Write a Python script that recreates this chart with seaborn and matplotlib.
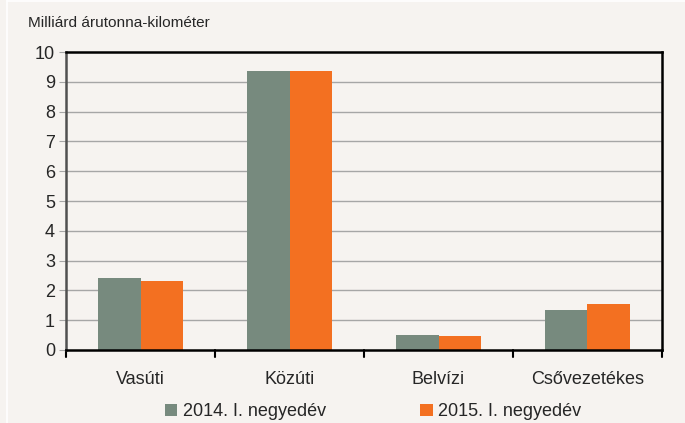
import pandas as pd
import seaborn as sns
import matplotlib.pyplot as plt
from matplotlib.lines import Line2D

categories = ['Vasúti', 'Közúti', 'Belvízi', 'Csővezetékes']
series = ['2014. I. negyedév', '2015. I. negyedév']
v2014 = [2.42, 9.35, 0.50, 1.34]
v2015 = [2.31, 9.35, 0.47, 1.53]
colors = ['#778A7E', '#F37021']
bg = '#F6F3F0'

df = pd.DataFrame({
    'cat': categories * 2,
    'series': [series[0]] * 4 + [series[1]] * 4,
    'value': v2014 + v2015,
})

sns.set_style('white')
plt.rcParams['font.family'] = ['Liberation Sans', 'DejaVu Sans']

fig = plt.figure(figsize=(6.85, 4.23), dpi=100, facecolor=bg)
ax = fig.add_axes([0.0964, 0.1726, 0.87, 0.7044])
ax.set_facecolor(bg)

sns.barplot(data=df, x='cat', y='value', hue='series', palette=colors,
            width=0.57, gap=0, saturation=1, linewidth=0, ax=ax, legend=True)

ax.set_ylim(0, 10)
ax.set_xlim(-0.5, 3.5)
ax.set_yticks(range(0, 11))
for y in range(1, 10):
    ax.axhline(y, color='#A6A6A6', lw=1, zorder=0)
ax.set_axisbelow(True)

ax.set_xlabel('')
ax.set_ylabel('')
ax.tick_params(axis='y', length=5, color='#A6A6A6', labelsize=13, pad=3, left=True)
ax.set_xticks([0, 1, 2, 3])
ax.set_xticklabels(categories, fontsize=13)
ax.tick_params(axis='x', length=0, pad=15)
# boundary ticks on the category axis
for xb in [-0.5, 0.5, 1.5, 2.5, 3.5]:
    ax.plot([xb, xb], [0, -0.22], color='black', lw=1.5, clip_on=False)

for s in ['top', 'right', 'bottom']:
    ax.spines[s].set_visible(True)
    ax.spines[s].set_color('black')
    ax.spines[s].set_linewidth(1.8)
ax.spines['left'].set_color('#505050')
ax.spines['left'].set_linewidth(1.8)

fig.text(0.041, 0.945, 'Milliárd árutonna-kilométer', fontsize=11.1, va='center', ha='left')

handles, labels = ax.get_legend_handles_labels()
ax.legend(handles, labels, loc='upper center', bbox_to_anchor=(0.515, -0.155), ncol=2,
          frameon=False, fontsize=13, handlelength=0.7, handleheight=0.7,
          handletextpad=0.3, columnspacing=5.2, borderaxespad=0)

# thin light frame lines near the edges
fig.add_artist(Line2D([7 / 685, 7 / 685], [0, 1], color='white', lw=1.2))
fig.add_artist(Line2D([7 / 685, 1], [1 - 1.5 / 423, 1 - 1.5 / 423], color='white', lw=1.2))

fig.savefig('out.png', dpi=100, facecolor=bg)
